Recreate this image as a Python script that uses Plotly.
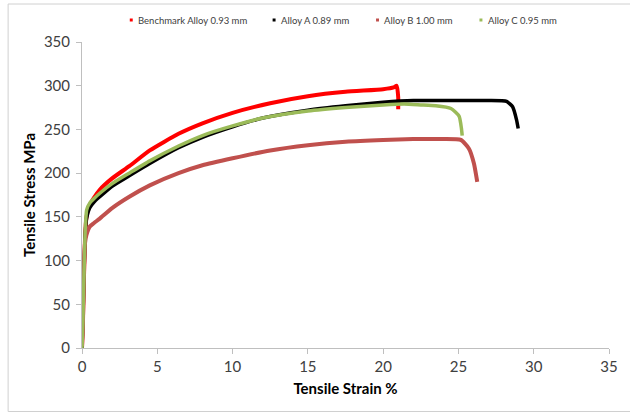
import plotly.graph_objects as go

# ---- data ----
bench_strain = [0, 0.05, 0.1, 0.2, 0.3, 0.5, 0.8, 1.18, 2.0, 3.14, 4.5, 6.41, 8.0, 10.0, 12.5, 15.0, 17.5, 20.0, 20.7, 20.9, 21.0, 21.0]
bench_stress = [0, 25, 60, 125, 150, 163, 172, 181, 194, 208, 226, 245, 257, 269, 280, 288, 293, 296, 298, 300, 287, 273]

a_strain = [0, 0.05, 0.1, 0.2, 0.3, 0.5, 0.8, 1.18, 2.0, 3.14, 4.5, 6.41, 8.0, 10.0, 12.0, 15.0, 17.5, 20.0, 22.0, 25.0, 27.0, 28.2, 28.6, 28.86, 28.97]
a_stress = [0, 25, 60, 125, 148, 160, 167, 173, 185, 197, 211, 229, 241, 253, 263, 272, 277, 281, 283, 283, 283, 282, 276, 261, 251]

b_strain = [0, 0.05, 0.1, 0.15, 0.2, 0.29, 0.52, 0.8, 1.18, 2.0, 3.14, 4.5, 6.41, 8.0, 10.0, 12.5, 15.0, 17.5, 20.0, 22.0, 24.0, 25.16, 25.7, 26.03, 26.25]
b_stress = [2, 20, 60, 100, 120, 129, 139, 143, 148, 160, 173, 186, 200, 209, 217, 226, 232, 236, 238, 239, 239, 238, 228, 211, 190]

c_strain = [0, 0.05, 0.1, 0.2, 0.31, 0.52, 0.8, 1.18, 2.0, 3.14, 4.5, 6.41, 8.0, 10.0, 12.0, 15.0, 17.5, 20.0, 21.4, 22.5, 23.5, 24.5, 25.05, 25.2, 25.25]
c_stress = [0, 25, 60, 130, 158, 166, 171, 177, 188, 200, 214, 231, 243, 254, 263, 271, 275, 278, 279, 278, 277, 274, 265, 251, 243]

names = ["Benchmark Alloy 0.93 mm", "Alloy A 0.89 mm", "Alloy B 1.00 mm", "Alloy C 0.95 mm"]
colors = ["#FF0000", "#000000", "#C0504D", "#9BBB59"]
widths = [4, 3.5, 4, 3.5]
series = [(bench_strain, bench_stress), (a_strain, a_stress), (b_strain, b_stress), (c_strain, c_stress)]

x_ticks = [0, 5, 10, 15, 20, 25, 30, 35]
y_ticks = [0, 50, 100, 150, 200, 250, 300, 350]

FONT = "Lato, 'Open Sans', sans-serif"

L, R, T, B = 82, 13, 42, 65
W, H = 630, 413
pw, ph = W - L - R, H - T - B

def px_x(p):
    return (p - L) / pw

def px_y(p):
    return (H - B - p) / ph

fig = go.Figure()
for (xs, ys), nm, c, w in zip(series, names, colors, widths):
    fig.add_trace(go.Scatter(x=xs, y=ys, mode="lines", name=nm, showlegend=False,
                             line=dict(color=c, width=w, shape="spline", smoothing=0.5)))

# legend drawn as in the Excel original: tiny square + label
legend_marker_px = [132, 277, 382, 487]
legend_y_px = 20
shapes = [dict(type="rect", xref="paper", yref="paper",
               x0=px_x(7), x1=px_x(660), y0=px_y(411.5), y1=px_y(4),
               line=dict(color="#D0D0D0", width=1), fillcolor="rgba(0,0,0,0)", layer="below")]
annotations = []
for nm, c, mx in zip(names, colors, legend_marker_px):
    shapes.append(dict(type="rect", xref="paper", yref="paper",
                       x0=px_x(mx - 1.5), x1=px_x(mx + 1.5),
                       y0=px_y(legend_y_px + 1.5), y1=px_y(legend_y_px - 1.5),
                       line=dict(width=0), fillcolor=c))
    annotations.append(dict(text=nm, xref="paper", yref="paper", x=px_x(mx + 5), y=px_y(legend_y_px),
                            xanchor="left", yanchor="middle", showarrow=False,
                            font=dict(size=9.5, color="#404040", family=FONT)))

fig.update_layout(
    width=W, height=H,
    margin=dict(l=L, r=R, t=T, b=B),
    paper_bgcolor="white", plot_bgcolor="white",
    font=dict(family=FONT, color="#404040"),
    showlegend=False,
    xaxis=dict(range=[0, 35], tickvals=x_ticks, ticktext=[str(v) for v in x_ticks],
               showgrid=False, zeroline=False, showline=True, linecolor="#BFBFBF", linewidth=1,
               ticks="outside", ticklen=5, tickcolor="#BFBFBF",
               tickfont=dict(size=15, color="#404040"),
               title=dict(text="<b>Tensile Strain %</b>", font=dict(size=15, color="#000000"), standoff=9)),
    yaxis=dict(range=[0, 350], tickvals=y_ticks, ticktext=[str(v) for v in y_ticks],
               showgrid=False, zeroline=False, showline=True, linecolor="#BFBFBF", linewidth=1,
               ticks="outside", ticklen=5, tickcolor="#BFBFBF", ticklabelstandoff=3,
               tickfont=dict(size=15, color="#404040"),
               title=dict(text="<b>Tensile Stress MPa</b>", font=dict(size=15, color="#000000"), standoff=4)),
    shapes=shapes,
    annotations=annotations,
)

fig.write_html("out.html")
